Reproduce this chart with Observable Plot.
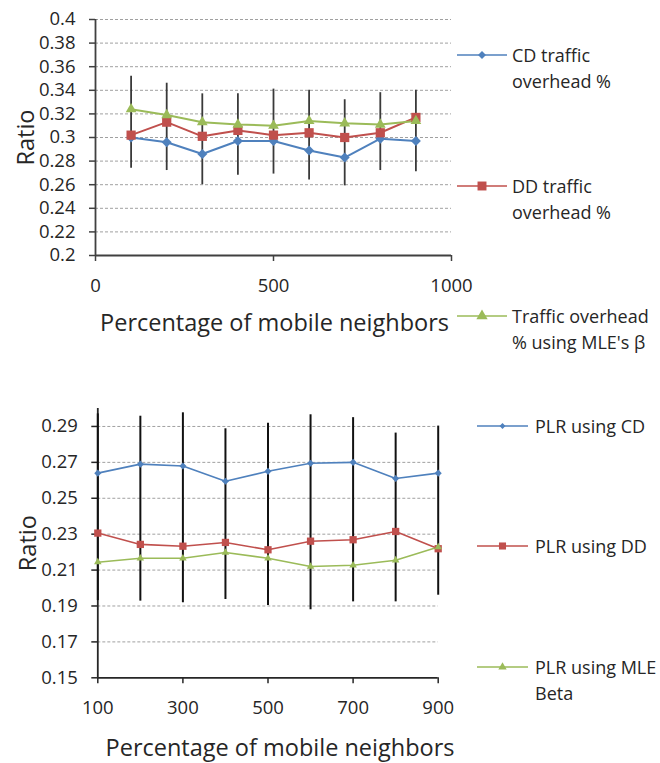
<!DOCTYPE html>
<html>
<head>
<meta charset="utf-8">
<script src="https://cdn.jsdelivr.net/npm/d3@7"></script>
<script src="https://cdn.jsdelivr.net/npm/@observablehq/plot@0.6"></script>
<style>
  html, body { margin: 0; padding: 0; background: #fff; }
  #figure { position: relative; width: 660px; height: 763px; font-family: "Open Sans", sans-serif; color: #262626; overflow: hidden; }
  #figure > svg { position: absolute; left: 0; }
  .legend { position: absolute; }
  .legend .item { position: absolute; left: 0; display: flex; align-items: flex-start; font-size: 18px; line-height: 26px; white-space: nowrap; }
  .legend .item svg { flex: none; }
</style>
</head>
<body>
<div id="figure"></div>
<script>
// Neighbour share (x) shared by both panels
const neighbors = [100, 200, 300, 400, 500, 600, 700, 800, 900];

// Upper panel: traffic overhead ratio
const cdTraffic  = [0.300, 0.296, 0.286, 0.297, 0.297, 0.289, 0.283, 0.299, 0.297];
const ddTraffic  = [0.302, 0.313, 0.301, 0.306, 0.302, 0.304, 0.300, 0.304, 0.317];
const mleTraffic = [0.324, 0.319, 0.313, 0.311, 0.310, 0.314, 0.312, 0.311, 0.314];
const trafficLow  = [0.274, 0.272, 0.260, 0.268, 0.269, 0.264, 0.259, 0.272, 0.271];
const trafficHigh = [0.352, 0.346, 0.337, 0.337, 0.341, 0.340, 0.332, 0.338, 0.340];
const trafficYTicks = [0.2, 0.22, 0.24, 0.26, 0.28, 0.3, 0.32, 0.34, 0.36, 0.38, 0.4];
const trafficXTicks = [0, 500, 1000];
const trafficNames = ["CD traffic\noverhead %", "DD traffic\noverhead %", "Traffic overhead\n% using MLE's β"];

// Lower panel: packet loss ratio
const cdPLR  = [0.264, 0.269, 0.268, 0.2595, 0.265, 0.2695, 0.270, 0.261, 0.264];
const ddPLR  = [0.2306, 0.2243, 0.2233, 0.2254, 0.2213, 0.2261, 0.2269, 0.2315, 0.2219];
const mlePLR = [0.2144, 0.2166, 0.2166, 0.2198, 0.2166, 0.2120, 0.2127, 0.2155, 0.2228];
const plrLow  = [0.193, 0.1927, 0.1918, 0.1936, 0.1903, 0.1879, 0.1923, 0.1923, 0.1960];
const plrHigh = [0.297, 0.2957, 0.2976, 0.2887, 0.2918, 0.2965, 0.2949, 0.2863, 0.2902];
const plrYTicks = [0.15, 0.17, 0.19, 0.21, 0.23, 0.25, 0.27, 0.29];
const plrXTicks = [100, 300, 500, 700, 900];
const plrNames = ["PLR using CD", "PLR using DD", "PLR using MLE\nBeta"];

const xLabel = "Percentage of mobile neighbors";
const yLabel = "Ratio";

const colors = ["#4F81BD", "#C0504D", "#9BBB59"];
const symbols = ["diamond2", "square", "triangle"];
const d3Symbols = [d3.symbolDiamond2, d3.symbolSquare, d3.symbolTriangle];
const textColor = "#262626";

function panel({series, low, high, xDomain, yDomain, xTicks, yTicks, height, marginTop, marginBottom, marginLeft, marginRight, radii, lineWidth, barColor, barWidth, axisColor, labelDx, labelDy}) {
  const rows = neighbors.map((x, i) => ({x, lo: low[i], hi: high[i], s: series.map(v => v[i])}));
  const lines = series.map((_, k) =>
    Plot.line(rows, {x: "x", y: d => d.s[k], stroke: colors[k], strokeWidth: lineWidth}));
  const dots = series.map((_, k) =>
    Plot.dot(rows, {x: "x", y: d => d.s[k], symbol: symbols[k], r: radii[k], fill: colors[k], stroke: null}));
  return Plot.plot({
    width: 660, height, marginTop, marginBottom, marginLeft, marginRight,
    style: {fontFamily: "Open Sans", fontSize: "18px", color: textColor, background: "transparent", overflow: "visible"},
    x: {domain: xDomain},
    y: {domain: yDomain},
    marks: [
      Plot.gridY(yTicks.filter(t => t > yDomain[0]), {stroke: "#a0a0a0", strokeOpacity: 1, strokeDasharray: "3,2"}),
      Plot.axisY({ticks: yTicks, tickFormat: d => String(d), tickSize: 6, tickPadding: 14, fontSize: 18.5, stroke: axisColor, fill: textColor, strokeWidth: 1.5, label: null}),
      Plot.axisX({ticks: xTicks, tickFormat: d => String(d), tickSize: 6, tickPadding: 17, fontSize: 18.5, stroke: axisColor, fill: textColor, strokeWidth: 1.5, label: null}),
      Plot.ruleX([xDomain[0]], {stroke: axisColor, strokeWidth: 1.8}),
      Plot.ruleY([yDomain[0]], {stroke: axisColor, strokeWidth: 1.8}),
      ...lines,
      Plot.ruleX(rows, {x: "x", y1: "lo", y2: "hi", stroke: barColor, strokeWidth: barWidth}),
      ...dots,
      Plot.text([xLabel], {frameAnchor: "bottom", text: d => d, dx: labelDx, dy: labelDy, textAnchor: "middle", lineAnchor: "middle", fontSize: 23.5, fill: textColor}),
      Plot.text([yLabel], {frameAnchor: "left", text: d => d, rotate: -90, dx: -69, textAnchor: "middle", lineAnchor: "middle", fontSize: 23.5, fill: textColor})
    ]
  });
}

function legend(names, {left, top, gap, swatchWidth, markerSizes, textGap}) {
  const box = document.createElement("div");
  box.className = "legend";
  box.style.left = left + "px";
  box.style.top = top + "px";
  names.forEach((name, k) => {
    const item = document.createElement("div");
    item.className = "item";
    item.style.top = (k * gap) + "px";
    const sw = d3.create("svg").attr("width", swatchWidth).attr("height", 26).style("margin-right", textGap + "px");
    sw.append("line").attr("x1", 0).attr("x2", swatchWidth).attr("y1", 13).attr("y2", 13)
      .attr("stroke", colors[k]).attr("stroke-width", 1.5);
    sw.append("path").attr("d", d3.symbol(d3Symbols[k], markerSizes[k])())
      .attr("transform", `translate(${swatchWidth / 2},13)`).attr("fill", colors[k]);
    item.appendChild(sw.node());
    const label = document.createElement("div");
    label.innerHTML = name.split("\n").map(s => s.replace(/&/g, "&amp;").replace(/</g, "&lt;")).join("<br>");
    item.appendChild(label);
    box.appendChild(item);
  });
  return box;
}

const fig = document.getElementById("figure");

const trafficChart = panel({
  series: [cdTraffic, ddTraffic, mleTraffic], low: trafficLow, high: trafficHigh,
  xDomain: [0, 1000], yDomain: [0.2, 0.4], xTicks: trafficXTicks, yTicks: trafficYTicks,
  height: 340, marginTop: 19, marginBottom: 85, marginLeft: 95, marginRight: 209,
  radii: [4.5, 5.2, 4], lineWidth: 2, barColor: "#3a3a3a", barWidth: 1.8, axisColor: "#404040",
  labelDx: 1, labelDy: 68
});
trafficChart.style.top = "0px";
fig.appendChild(trafficChart);

const plrChart = panel({
  series: [cdPLR, ddPLR, mlePLR], low: plrLow, high: plrHigh,
  xDomain: [100, 900], yDomain: [0.15, 0.30], xTicks: plrXTicks, yTicks: plrYTicks,
  height: 374, marginTop: 19, marginBottom: 85.7, marginLeft: 97.3, marginRight: 222.3,
  radii: [3.2, 4.1, 2.8], lineWidth: 1.6, barColor: "#111", barWidth: 2, axisColor: "#262626",
  labelDx: 12, labelDy: 71
});
plrChart.style.top = "389px";
fig.appendChild(plrChart);

fig.appendChild(legend(trafficNames, {left: 457, top: 42, gap: 130.5, swatchWidth: 50, markerSizes: [40, 80, 55], textGap: 5}));
fig.appendChild(legend(plrNames, {left: 477, top: 413, gap: 120.3, swatchWidth: 51, markerSizes: [22, 50, 30], textGap: 7}));
</script>
</body>
</html>
